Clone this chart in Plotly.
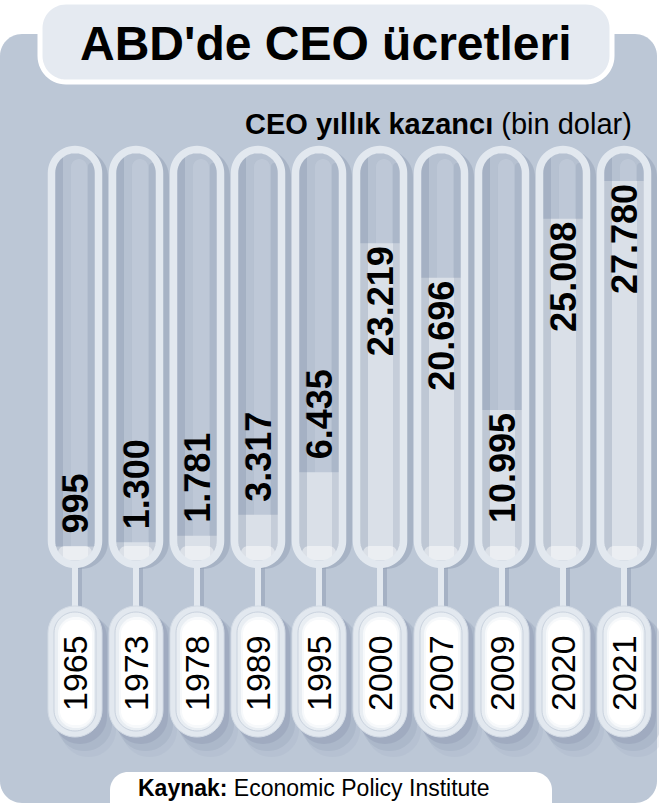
import plotly.graph_objects as go

# ---------------- data ----------------
years = ["1965", "1973", "1978", "1989", "1995", "2000", "2007", "2009", "2020", "2021"]
ceo_pay = [995, 1300, 1781, 3317, 6435, 23219, 20696, 10995, 25008, 27780]
title_text = "ABD'de CEO ücretleri"
subtitle_text = "<b>CEO yıllık kazancı</b> (bin dolar)"
source_text = "<b>Kaynak:</b> Economic Policy Institute"

# ---------------- layout constants ----------------
W, H = 659, 808
CX0, STEP = 75, 61          # pixel centre of first tube, spacing
INNER_R, OUTER_R = 20, 27
TUBE_TOP, ZERO_Y = 153, 560  # inner top of tube, pixel of value 0
YMAX = 29832
INSIDE_MIN = 9000            # labels of bars above this go inside
FONT = "Liberation Sans"

PANEL = "#bcc7d6"
TUBE_IN = "#b6c1d1"
TUBE_BORDER = "#e2e8ef"
BAR = "#dae0e8"
SHADOW = "#8e9cb2"


def px(x):
    return x / W


def py(y):
    return 1 - y / H


def rounded_path(x0, y0, x1, y1, r, n=14):
    import math
    corners = [((x0 + r, y0 + r), 180, 270), ((x1 - r, y0 + r), 270, 360),
               ((x1 - r, y1 - r), 0, 90), ((x0 + r, y1 - r), 90, 180)]
    pts = []
    for (cx, cy), a0, a1 in corners:
        for k in range(n + 1):
            a = math.radians(a0 + (a1 - a0) * k / n)
            pts.append((cx + r * math.cos(a), cy + r * math.sin(a)))
    d = "M " + " L ".join(f"{px(x):.5f},{py(y):.5f}" for x, y in pts) + " Z"
    return d


shapes = []


def add_path(x0, y0, x1, y1, r, fill, line_color=None, line_width=0, layer="below", opacity=1):
    shapes.append(dict(type="path", path=rounded_path(x0, y0, x1, y1, r), xref="paper", yref="paper",
                       fillcolor=fill, line=dict(color=line_color or "rgba(0,0,0,0)", width=line_width),
                       layer=layer, opacity=opacity))


# background panel, title box
add_path(0, 34, 657, 803, 22, PANEL)
add_path(40, 2, 612, 82, 26, "#e5eaf1", "white", 5)

CAP_TOP, CAP_BOT = 606, 737
for i in range(len(years)):
    cx = CX0 + STEP * i
    # shadows
    add_path(cx - OUTER_R + 6, 150, cx + OUTER_R + 6, ZERO_Y + 9, OUTER_R, SHADOW, opacity=0.45)
    add_path(cx - OUTER_R + 5, CAP_TOP + 5, cx + OUTER_R + 5, CAP_BOT + 7, OUTER_R, SHADOW, opacity=0.40)
    add_path(cx - OUTER_R + 9, CAP_TOP + 9, cx + OUTER_R + 10, CAP_BOT + 14, OUTER_R, SHADOW, opacity=0.25)
    add_path(cx - OUTER_R + 13, CAP_TOP + 13, cx + OUTER_R + 14, CAP_BOT + 20, OUTER_R, SHADOW, opacity=0.12)
    # stem
    shapes.append(dict(type="rect", xref="paper", yref="paper", x0=px(cx + 1), x1=px(cx + 7),
                       y0=py(ZERO_Y + 4), y1=py(CAP_TOP + 2), fillcolor=SHADOW, opacity=0.5,
                       line=dict(width=0), layer="below"))
    shapes.append(dict(type="rect", xref="paper", yref="paper", x0=px(cx - 3), x1=px(cx + 3),
                       y0=py(ZERO_Y + 4), y1=py(CAP_TOP + 2), fillcolor=TUBE_BORDER,
                       line=dict(width=0), layer="below"))
    # tube interior
    add_path(cx - INNER_R, TUBE_TOP, cx + INNER_R, ZERO_Y + 1, INNER_R, TUBE_IN)
    add_path(cx - 4, TUBE_TOP + 6, cx + 12, ZERO_Y - 6, 8, "#c6d0dd", opacity=0.5)
    # wall shading and bottom highlight (above bars)
    add_path(cx - INNER_R, TUBE_TOP, cx - INNER_R + 8, ZERO_Y + 1, 4, "#7f8ea6", layer="above", opacity=0.30)
    add_path(cx + INNER_R - 7, TUBE_TOP + 10, cx + INNER_R, ZERO_Y + 1, 3, "#8f9db3", layer="above", opacity=0.28)
    add_path(cx - INNER_R + 3, ZERO_Y - 14, cx + INNER_R - 3, ZERO_Y + 1, 7, "white", layer="above", opacity=0.45)
    # tube border
    m = (INNER_R + OUTER_R) / 2
    add_path(cx - m, TUBE_TOP - 3.5, cx + m, ZERO_Y + 4.5, m, "rgba(0,0,0,0)", TUBE_BORDER, 7.5, layer="above")
    # year capsule
    add_path(cx - OUTER_R, CAP_TOP, cx + OUTER_R, CAP_BOT, OUTER_R, TUBE_BORDER, "#d3dbe5", 1)
    add_path(cx - INNER_R - 1, CAP_TOP + 6, cx + INNER_R + 1, CAP_BOT - 6, INNER_R + 1, "#e9eef3", "#c9d2de", 1)
    add_path(cx - INNER_R + 3, CAP_TOP + 11, cx + INNER_R - 1, CAP_BOT - 9, INNER_R - 3, "#f7f9fb")
    add_path(cx - INNER_R + 5, CAP_TOP + 14, cx + INNER_R - 3, CAP_BOT - 12, INNER_R - 6, "white")

# source box
add_path(110, 772, 552, 840, 18, "white")

positions = ["inside" if v > INSIDE_MIN else "outside" for v in ceo_pay]
templates = ["%{y:,}" if p == "inside" else "\u00a0%{y:,}" for p in positions]
label_font = dict(family=FONT, size=36, color="black", weight="bold")

fig = go.Figure(go.Bar(
    x=years, y=ceo_pay,
    texttemplate=templates,
    textposition=positions,
    textangle=-90,
    insidetextanchor="end",
    constraintext="none",
    cliponaxis=False,
    textfont=label_font,
    insidetextfont=label_font,
    outsidetextfont=label_font,
    marker=dict(color=BAR, line=dict(width=0)),
    hoverinfo="skip",
))

annotations = [
    dict(text=title_text, x=px(326), y=py(43), xref="paper", yref="paper", showarrow=False,
         xanchor="center", yanchor="middle", font=dict(family=FONT, size=48, color="black", weight="bold")),
    dict(text=subtitle_text, x=px(634), y=py(124), xref="paper", yref="paper", showarrow=False,
         xanchor="right", yanchor="middle", font=dict(family=FONT, size=29, color="black")),
    dict(text=source_text, x=px(136), y=py(788), xref="paper", yref="paper", showarrow=False,
         xanchor="left", yanchor="middle", font=dict(family=FONT, size=23, color="black")),
]
for i, yr in enumerate(years):
    annotations.append(dict(text=yr, x=i, xref="x", y=py(673), yref="paper", showarrow=False,
                            textangle=-90, xanchor="center", yanchor="middle",
                            font=dict(family=FONT, size=34, color="black")))

fig.update_layout(
    width=W, height=H,
    margin=dict(l=0, r=0, t=0, b=0),
    paper_bgcolor="white", plot_bgcolor="rgba(0,0,0,0)",
    separators=",.",
    bargap=1 - 2 * INNER_R / STEP,
    showlegend=False,
    xaxis=dict(type="category", visible=False, range=[-0.5, 9.5],
               domain=[px(CX0 - STEP / 2), px(CX0 + STEP * 9.5)]),
    yaxis=dict(visible=False, range=[0, YMAX], domain=[py(ZERO_Y), py(TUBE_TOP)]),
    shapes=shapes,
    annotations=annotations,
)

fig.write_html("out.html", config={"displayModeBar": False},
               post_script="document.body.style.margin='0';document.body.style.overflow='hidden';")
